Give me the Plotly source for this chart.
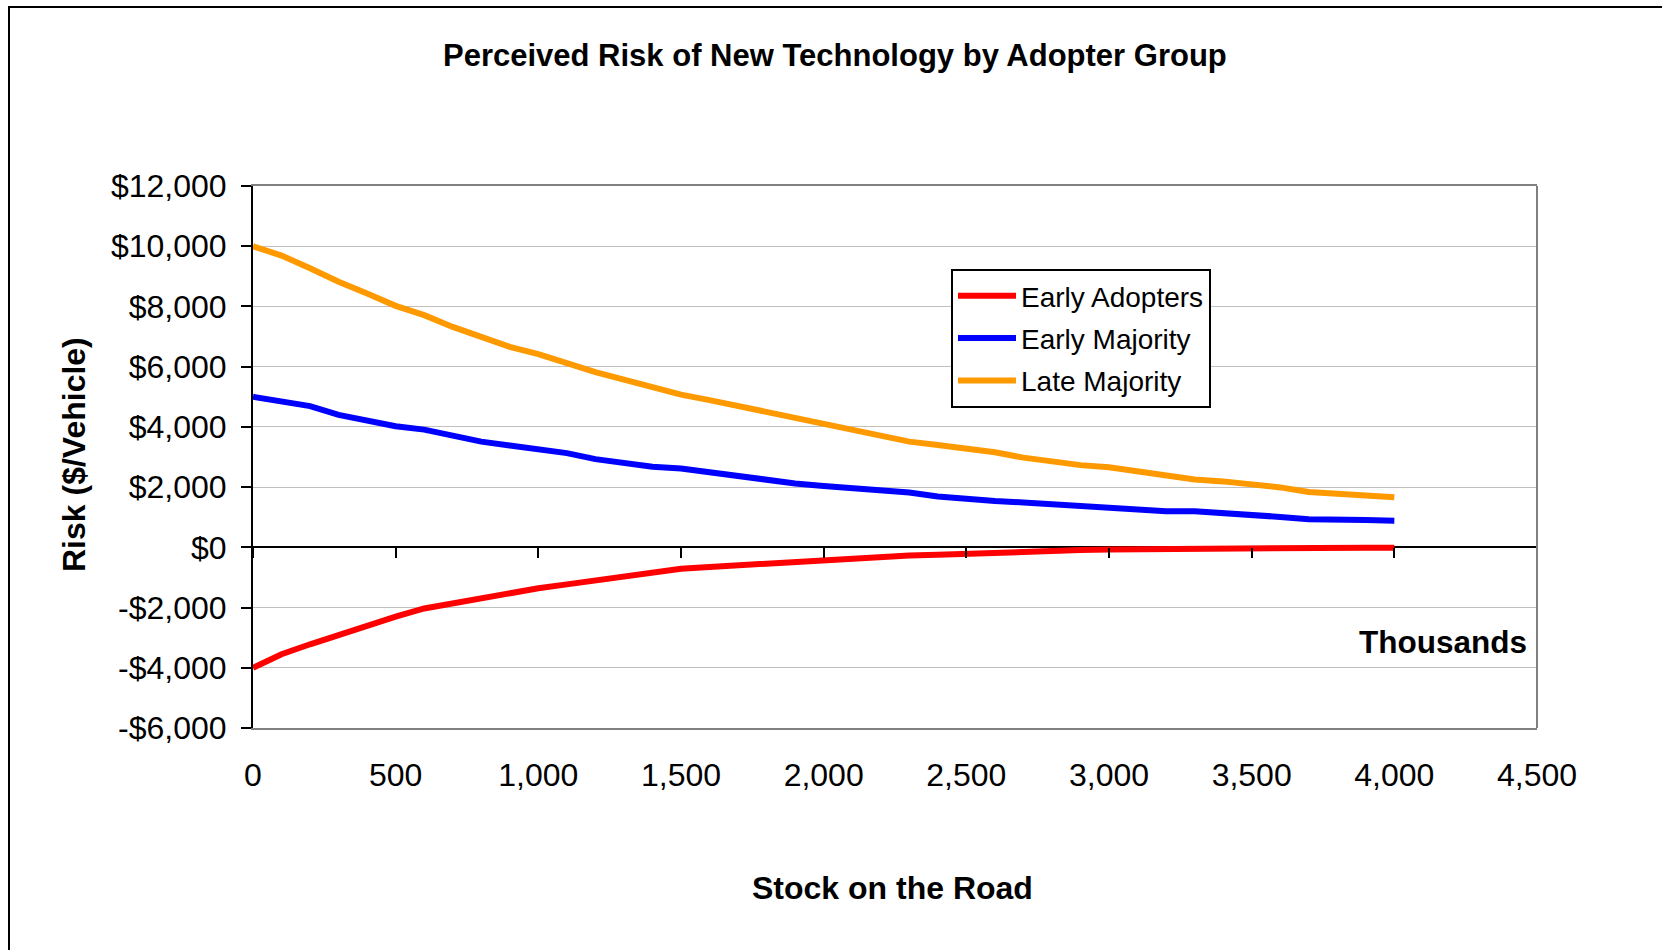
import plotly.graph_objects as go

# Stock on the road (thousands of vehicles)
stock = [0, 100, 200, 300, 400, 500, 600, 700, 800, 900,
         1000, 1100, 1200, 1300, 1400, 1500, 1600, 1700, 1800, 1900,
         2000, 2100, 2200, 2300, 2400, 2500, 2600, 2700, 2800, 2900,
         3000, 3100, 3200, 3300, 3400, 3500, 3600, 3700, 3800, 3900, 4000]

# Perceived risk ($/vehicle) by adopter group
early_adopters = [-4000, -3550, -3220, -2900, -2570, -2300, -2030, -1850, -1680, -1520,
                  -1360, -1230, -1090, -950, -820, -710, -650, -590, -530, -480,
                  -410, -370, -330, -270, -250, -210, -170, -130, -110, -90,
                  -70, -60, -50, -20, -20, -15, -15, -10, -10, -10, -10]
early_majority = [5000, 4860, 4690, 4400, 4210, 4020, 3910, 3710, 3510, 3380,
                  3270, 3130, 2930, 2800, 2680, 2620, 2490, 2400, 2270, 2120,
                  2040, 1970, 1900, 1820, 1690, 1600, 1540, 1490, 1430, 1380,
                  1320, 1270, 1200, 1200, 1150, 1080, 1010, 930, 930, 910, 880]
late_majority = [10000, 9690, 9270, 8820, 8430, 8020, 7710, 7320, 6990, 6660,
                 6420, 6100, 5820, 5570, 5300, 5070, 4890, 4690, 4460, 4270,
                 4070, 3860, 3660, 3510, 3400, 3290, 3160, 2980, 2840, 2730,
                 2660, 2520, 2380, 2250, 2190, 2100, 1990, 1840, 1790, 1730, 1660]

series_names = ["Early Adopters", "Early Majority", "Late Majority"]
series_colors = ["#FF0000", "#0000FF", "#FF9900"]

x_tickvals = [0, 500, 1000, 1500, 2000, 2500, 3000, 3500, 4000, 4500]
x_ticktext = ["0", "500", "1,000", "1,500", "2,000", "2,500", "3,000", "3,500", "4,000", "4,500"]
y_tickvals = [-6000, -4000, -2000, 0, 2000, 4000, 6000, 8000, 10000, 12000]
y_ticktext = ["-$6,000", "-$4,000", "-$2,000", "$0", "$2,000", "$4,000",
              "$6,000", "$8,000", "$10,000", "$12,000"]

FONT = "Liberation Sans, Arial, sans-serif"
W, H = 1662, 950
L, R, T, B = 253, 125, 186, 222
PW, PH = W - L - R, H - T - B


def px_x(p):
    return (p - L) / PW


def px_y(p):
    return (H - B - p) / PH


fig = go.Figure()
for name, color, vals in zip(series_names, series_colors,
                             [early_adopters, early_majority, late_majority]):
    fig.add_trace(go.Scatter(x=stock, y=vals, mode="lines", name=name,
                             legendgroup=name,
                             line=dict(color=color, width=6)))

# helper trace so the tick-only axis on the zero line is drawn
fig.add_trace(go.Scatter(x=[0], y=[0], xaxis="x2", mode="markers",
                         marker=dict(opacity=0), showlegend=False, hoverinfo="skip"))

zero_pos = (0 - (-6000)) / 18000

fig.update_layout(
    width=W, height=H,
    margin=dict(l=L, r=R, t=T, b=B),
    paper_bgcolor="white", plot_bgcolor="white",
    font=dict(family=FONT, size=32, color="black"),
    showlegend=True,
    legend=dict(x=px_x(951), y=px_y(269), xanchor="left", yanchor="top",
                bordercolor="black", borderwidth=2, bgcolor="white",
                font=dict(size=28), traceorder="grouped", tracegroupgap=3,
                itemwidth=58),
    xaxis=dict(range=[0, 4500], tickvals=x_tickvals, ticktext=x_ticktext,
               showgrid=False, zeroline=False, showline=True, linecolor="#808080",
               linewidth=2, mirror=True, ticks="", ticklabelstandoff=18,
               tickfont=dict(size=32)),
    xaxis2=dict(range=[0, 4500], overlaying="x", anchor="free", position=zero_pos,
                tickvals=x_tickvals, showticklabels=False, ticks="outside",
                ticklen=10, tickwidth=2, tickcolor="black", showgrid=False,
                zeroline=False, showline=False),
    yaxis=dict(range=[-6000, 12000], tickvals=y_tickvals, ticktext=y_ticktext,
               showgrid=True, gridcolor="#C0C0C0", gridwidth=1,
               zeroline=True, zerolinecolor="black", zerolinewidth=2,
               showline=True, linecolor="black", linewidth=2,
               ticks="outside", ticklen=10, tickwidth=2, tickcolor="black",
               ticklabelstandoff=8, tickfont=dict(size=32)),
    shapes=[
        # right edge of the plot area
        dict(type="line", xref="paper", yref="paper", x0=1, x1=1, y0=0, y1=1,
             line=dict(color="#808080", width=2), layer="above"),
        # outer chart frame
        dict(type="rect", xref="paper", yref="paper",
             x0=px_x(9), x1=px_x(1700), y0=px_y(1000), y1=px_y(7),
             line=dict(color="black", width=2), layer="below"),
    ],
    annotations=[
        dict(text="<b>Perceived Risk of New Technology by Adopter Group</b>",
             xref="paper", yref="paper", x=px_x(835), y=px_y(55),
             xanchor="center", yanchor="middle", showarrow=False,
             font=dict(size=31)),
        dict(text="<b>Stock on the Road</b>", xref="paper", yref="paper",
             x=px_x(892), y=px_y(888), xanchor="center", yanchor="middle",
             showarrow=False, font=dict(size=32)),
        dict(text="<b>Risk ($/Vehicle)</b>", xref="paper", yref="paper",
             x=px_x(74), y=px_y(455), xanchor="center", yanchor="middle",
             textangle=-90, showarrow=False, font=dict(size=32)),
        dict(text="<b>Thousands</b>", xref="paper", yref="paper",
             x=px_x(1529), y=px_y(642), xanchor="right", yanchor="middle",
             showarrow=False, font=dict(size=31.5)),
    ],
)

fig.write_html("out.html")
